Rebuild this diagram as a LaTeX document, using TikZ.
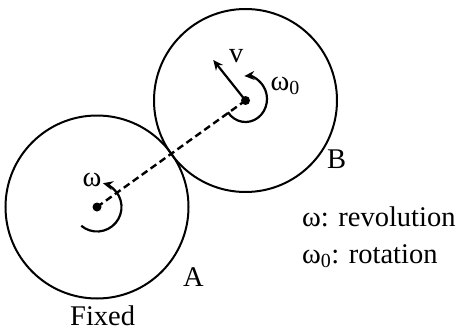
\documentclass[tikz,border=0pt]{standalone}
\usepackage{fontspec}
\setmainfont{Liberation Serif}
\usetikzlibrary{arrows.meta}
\begin{document}
\begin{tikzpicture}[x=1pt,y=1pt,
  wheel/.style={draw, circle, line width=2pt, inner sep=0pt, minimum size=183pt},
  link/.style={line width=2.4pt, dash pattern=on 7pt off 4pt},
  motion/.style={line width=2.2pt, -{Stealth[length=10pt,width=9pt]}},
  lbl/.style={inner sep=0pt, anchor=base west, font=\fontsize{28.5}{34}\selectfont},
  pivot/.style={circle, fill, inner sep=0pt, minimum size=9pt}]
\useasboundingbox (0,0) rectangle (458,333);
\coordinate (cA) at (97,126);
\coordinate (cB) at (245.5,232.5);
\node[wheel] (A) at (cA) {};
\node[wheel] (B) at (cB) {};
\node[pivot] (oA) at (cA) {};
\node[pivot] (oB) at (cB) {};
\draw[link] (oA.center) -- (oB.center);
\coordinate (vtip) at (213.3,273);
\draw[motion] (oB.center) -- (vtip);
\draw[motion] ([shift={(-130:24.5)}]oA.center) arc[start angle=-130, end angle=76, radius=24.5];
\coordinate (cBr) at (245.5,234);
\draw[motion] ([shift={(-145:21.5 and 23)}]cBr) arc[start angle=-145, end angle=93, x radius=21.5, y radius=23];
\node[lbl] (wA) at (82.5,147) {ω};
\node[lbl] (v) at (229,271) {v};
\node[lbl] (wB) at (270.5,243) {ω\textsubscript{0}};
\node[lbl] (lB) at (327,165) {B};
\node[lbl] (lA) at (183,47) {A};
\node[lbl] (fx) at (70,8) {Fixed};
\node[lbl] (rev) at (302,107) {ω: revolution};
\node[lbl] (rot) at (302,70) {ω\textsubscript{0}: rotation};
\end{tikzpicture}
\end{document}
